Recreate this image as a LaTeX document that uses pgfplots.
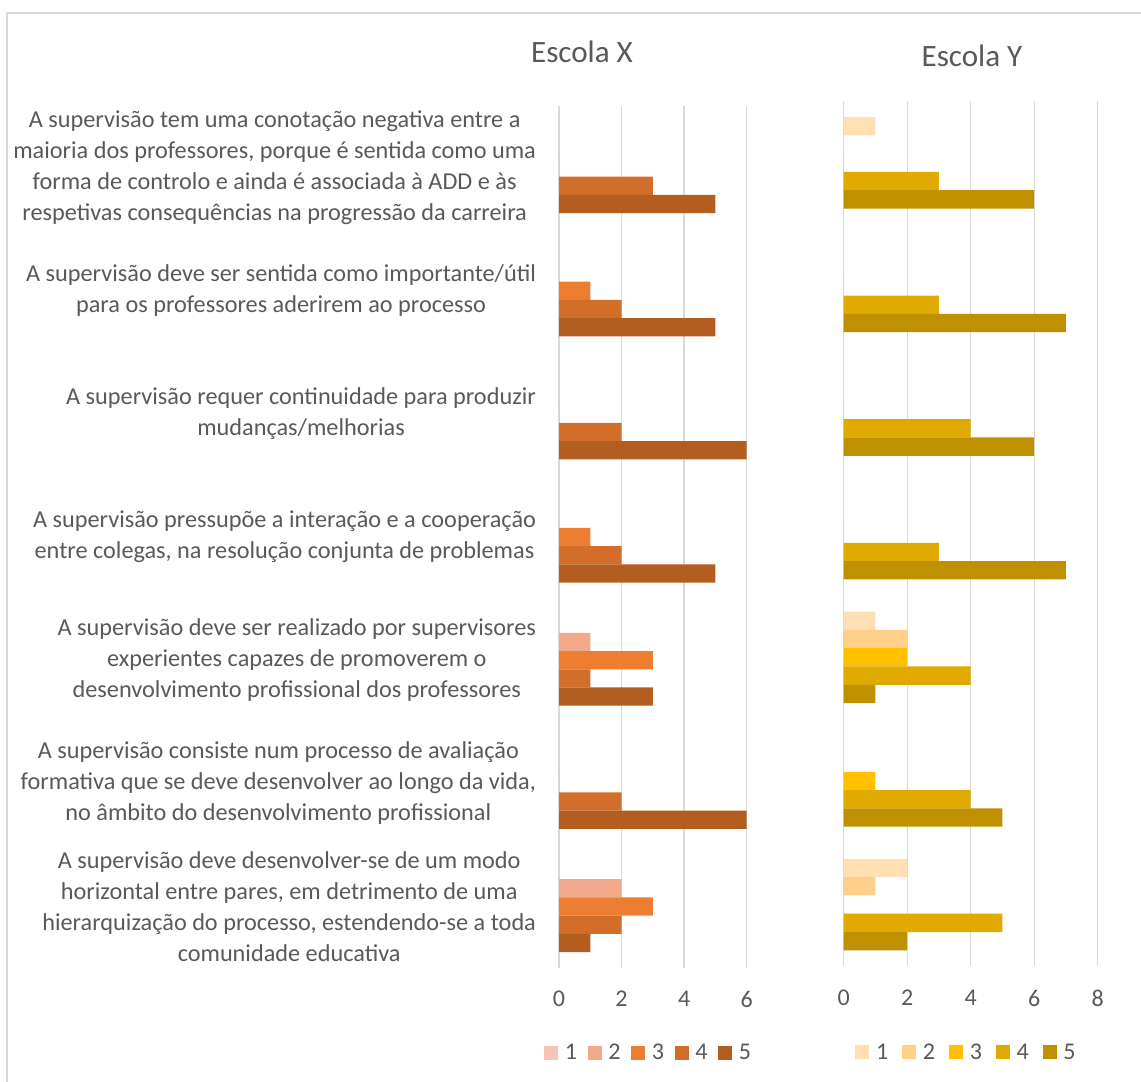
\documentclass[border=0pt]{standalone}
\usepackage{pgfplots}
\usepackage{pgfplotstable}
\pgfplotsset{compat=1.18}
\usepackage{fontspec}
\setmainfont{Carlito}

\definecolor{txt}{HTML}{595959}
\definecolor{grd}{HTML}{D9D9D9}
% Escola X palette
\definecolor{xa}{HTML}{F5C6B6}
\definecolor{xb}{HTML}{F2A98B}
\definecolor{xc}{HTML}{ED7D31}
\definecolor{xd}{HTML}{D26E2A}
\definecolor{xe}{HTML}{B45D21}
% Escola Y palette
\definecolor{ya}{HTML}{FFDFB3}
\definecolor{yb}{HTML}{FFD08A}
\definecolor{yc}{HTML}{FFC000}
\definecolor{yd}{HTML}{E0AA00}
\definecolor{ye}{HTML}{BF9000}

% counts of answers 1..5 per statement (y=6 is the first statement)
\pgfplotstableread{
y s1 s2 s3 s4 s5
6 0 0 0 3 5
5 0 0 1 2 5
4 0 0 0 2 6
3 0 0 1 2 5
2 0 1 3 1 3
1 0 0 0 2 6
0 0 2 3 2 1
}\escolaX

\pgfplotstableread{
y s1 s2 s3 s4 s5
6 1 0 0 3 6
5 0 0 0 3 7
4 0 0 0 4 6
3 0 0 0 3 7
2 1 2 2 4 1
1 0 0 1 4 5
0 2 1 0 5 2
}\escolaY

\pgfplotsset{
  panel/.style={
    scale only axis,
    xbar,
    bar width=0.148,
    ymin=-0.5, ymax=6.5,
    xmin=0,
    axis line style={draw=none},
    major tick style={draw=none},
    xmajorgrids,
    grid style={grd, line width=1.1pt},
    /pgf/number format/assume math mode=true,
    xticklabel style={text=txt, font=\fontsize{18}{21}\selectfont, yshift=-14pt},
    legend columns=5,
    legend style={draw=none, fill=none, anchor=center,
      font=\fontsize{18}{21}\selectfont, text=txt,
      nodes={inner sep=0pt},
      /tikz/every odd column/.append style={column sep=5pt}},
    legend image code/.code={\fill[##1] (0pt,-5.25pt) rectangle (10.5pt,5.25pt);},
  }
}

\begin{document}
\begin{tikzpicture}
\useasboundingbox (0pt,0pt) rectangle (855.75pt,-810.75pt);
\draw[grd, line width=1.1pt] (5.25pt,-9.75pt) rectangle (870pt,-825pt);

\node[anchor=base, text=txt, font=\fontsize{23.3}{28}\selectfont] at (436.5pt,-47.25pt) {Escola X};
\node[anchor=base, text=txt, font=\fontsize{23.3}{28}\selectfont] at (729pt,-50.25pt) {Escola Y};

\begin{axis}[panel,
  at={(419.25pt,-726pt)}, anchor=south west,
  width=140.8pt, height=646.5pt,
  xmax=6, xtick={0,2,4,6},
  ytick={0,...,6},
  yticklabels={
    {A supervisão deve desenvolver-se de um modo\\horizontal entre pares, em detrimento de uma\\hierarquização do processo, estendendo-se a toda\\comunidade educativa},
    {A supervisão consiste num processo de avaliação\\formativa que se deve desenvolver ao longo da vida,\\no âmbito do desenvolvimento profissional},
    {A supervisão deve ser realizado por supervisores\\experientes capazes de promoverem o\\desenvolvimento profissional dos professores},
    {A supervisão pressupõe a interação e a cooperação\\entre colegas, na resolução conjunta de problemas},
    {A supervisão requer continuidade para produzir\\mudanças/melhorias},
    {A supervisão deve ser sentida como importante/útil\\para os professores aderirem ao processo},
    {A supervisão tem uma conotação negativa entre a\\maioria dos professores, porque é sentida como uma\\forma de controlo e ainda é associada à ADD e às\\respetivas consequências na progressão da carreira}},
  yticklabel style={align=center, text=txt, font=\fontsize{18.2}{23.25}\selectfont, xshift=-9.5pt},
  legend style={at={(0.4715,-0.0986)},
    /tikz/every even column/.append style={column sep=8pt}},
]
\addplot[fill=xa, draw=none, bar shift=0.296]  table[x=s1, y=y] {\escolaX};
\addplot[fill=xb, draw=none, bar shift=0.148]  table[x=s2, y=y] {\escolaX};
\addplot[fill=xc, draw=none, bar shift=0]      table[x=s3, y=y] {\escolaX};
\addplot[fill=xd, draw=none, bar shift=-0.148] table[x=s4, y=y] {\escolaX};
\addplot[fill=xe, draw=none, bar shift=-0.296] table[x=s5, y=y] {\escolaX};
\legend{1,2,3,4,5}
\end{axis}

\begin{axis}[panel,
  at={(632.8pt,-724.8pt)}, anchor=south west,
  width=190.5pt, height=649.1pt,
  xmax=8, xtick={0,2,4,6,8},
  ytick=\empty,
  legend style={at={(0.4795,-0.0994)},
    /tikz/every even column/.append style={column sep=10.5pt}},
]
\addplot[fill=ya, draw=none, bar shift=0.296]  table[x=s1, y=y] {\escolaY};
\addplot[fill=yb, draw=none, bar shift=0.148]  table[x=s2, y=y] {\escolaY};
\addplot[fill=yc, draw=none, bar shift=0]      table[x=s3, y=y] {\escolaY};
\addplot[fill=yd, draw=none, bar shift=-0.148] table[x=s4, y=y] {\escolaY};
\addplot[fill=ye, draw=none, bar shift=-0.296] table[x=s5, y=y] {\escolaY};
\legend{1,2,3,4,5}
\end{axis}
\end{tikzpicture}
\end{document}
